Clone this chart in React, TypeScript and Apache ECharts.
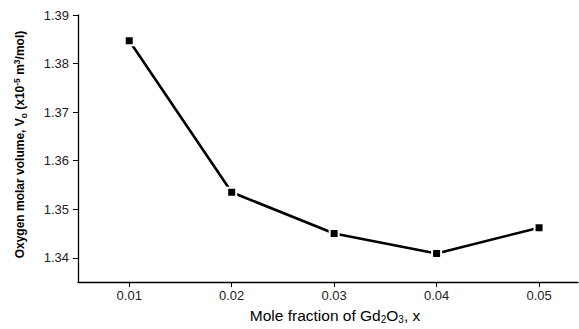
import React, { useEffect, useRef } from "react";
import * as echarts from "echarts";

const xValues = [0.01, 0.02, 0.03, 0.04, 0.05];
const yValues = [1.3847, 1.3535, 1.345, 1.3409, 1.3462];
const xTicks = [0.01, 0.02, 0.03, 0.04, 0.05];
const yTicks = [1.34, 1.35, 1.36, 1.37, 1.38, 1.39];

export default function App() {
  const ref = useRef<HTMLDivElement>(null);
  useEffect(() => {
    if (!ref.current) return;
    const chart = echarts.init(ref.current, null, { renderer: "svg" });
    const font = "Liberation Sans, Arial, sans-serif";
    chart.setOption({
      animation: false,
      backgroundColor: "#fff",
      grid: { left: 78, right: 1, top: 15, bottom: 45, containLabel: false },
      xAxis: {
        type: "value",
        min: 0.005,
        max: 0.0538,
        name: "{n|Mole fraction of Gd}{sub|2}{n|O}{sub|3}{n|, x}",
        nameLocation: "middle",
        nameGap: 16,
        nameTextStyle: {
          padding: [0, 0, 0, 14],
          rich: {
            n: { fontSize: 15.5, fontFamily: font, color: "#000", lineHeight: 18 },
            sub: { fontSize: 10, fontFamily: font, color: "#000", verticalAlign: "bottom", lineHeight: 14, padding: [6, 0, 0, 0] },
          },
        },
        axisLine: { show: true, onZero: false, lineStyle: { color: "#000", width: 1.3 } },
        axisTick: { show: true, inside: false, length: 5, customValues: xTicks, lineStyle: { color: "#000", width: 1 } },
        axisLabel: {
          customValues: xTicks,
          margin: 7,
          fontSize: 13,
          fontFamily: font,
          color: "#222",
          formatter: (v: number) => v.toFixed(2),
        },
        splitLine: { show: false },
      },
      yAxis: {
        type: "value",
        min: 1.335,
        max: 1.39,
        name:
          "{b|Oxygen molar volume, V}{bs|o}{b| (x10}{bp|-5}{b| m}{bp|3}{b|/mol)}",
        nameLocation: "middle",
        nameRotate: 90,
        nameGap: 50,
        nameTextStyle: {
          padding: [0, 0, 0, 8],
          rich: {
            b: { fontSize: 12, fontWeight: "bold", fontFamily: font, color: "#000", lineHeight: 16 },
            bs: { fontSize: 8.5, fontWeight: "bold", fontFamily: font, color: "#000", verticalAlign: "bottom", lineHeight: 12, padding: [5, 0, 0, 0] },
            bp: { fontSize: 8.5, fontWeight: "bold", fontFamily: font, color: "#000", verticalAlign: "top", lineHeight: 12, padding: [0, 0, 6, 0] },
          },
        },
        axisLine: { show: true, onZero: false, lineStyle: { color: "#000", width: 1.3 } },
        axisTick: { show: true, inside: false, length: 5, customValues: yTicks, lineStyle: { color: "#000", width: 1 } },
        axisLabel: {
          customValues: yTicks,
          margin: 9,
          fontSize: 13,
          fontFamily: font,
          color: "#222",
          formatter: (v: number) => v.toFixed(2),
        },
        splitLine: { show: false },
      },
      series: [
        {
          type: "line",
          data: xValues.map((x, i) => [x, yValues[i]]),
          symbol: "rect",
          symbolSize: 9,
          lineStyle: { color: "#000", width: 2.6 },
          itemStyle: { color: "#000", borderColor: "#fff", borderWidth: 2 },
        },
      ],
    });
    return () => chart.dispose();
  }, []);
  return (
    <div
      ref={ref}
      style={{ position: "absolute", left: 0, top: 0, width: 579, height: 329 }}
    />
  );
}
